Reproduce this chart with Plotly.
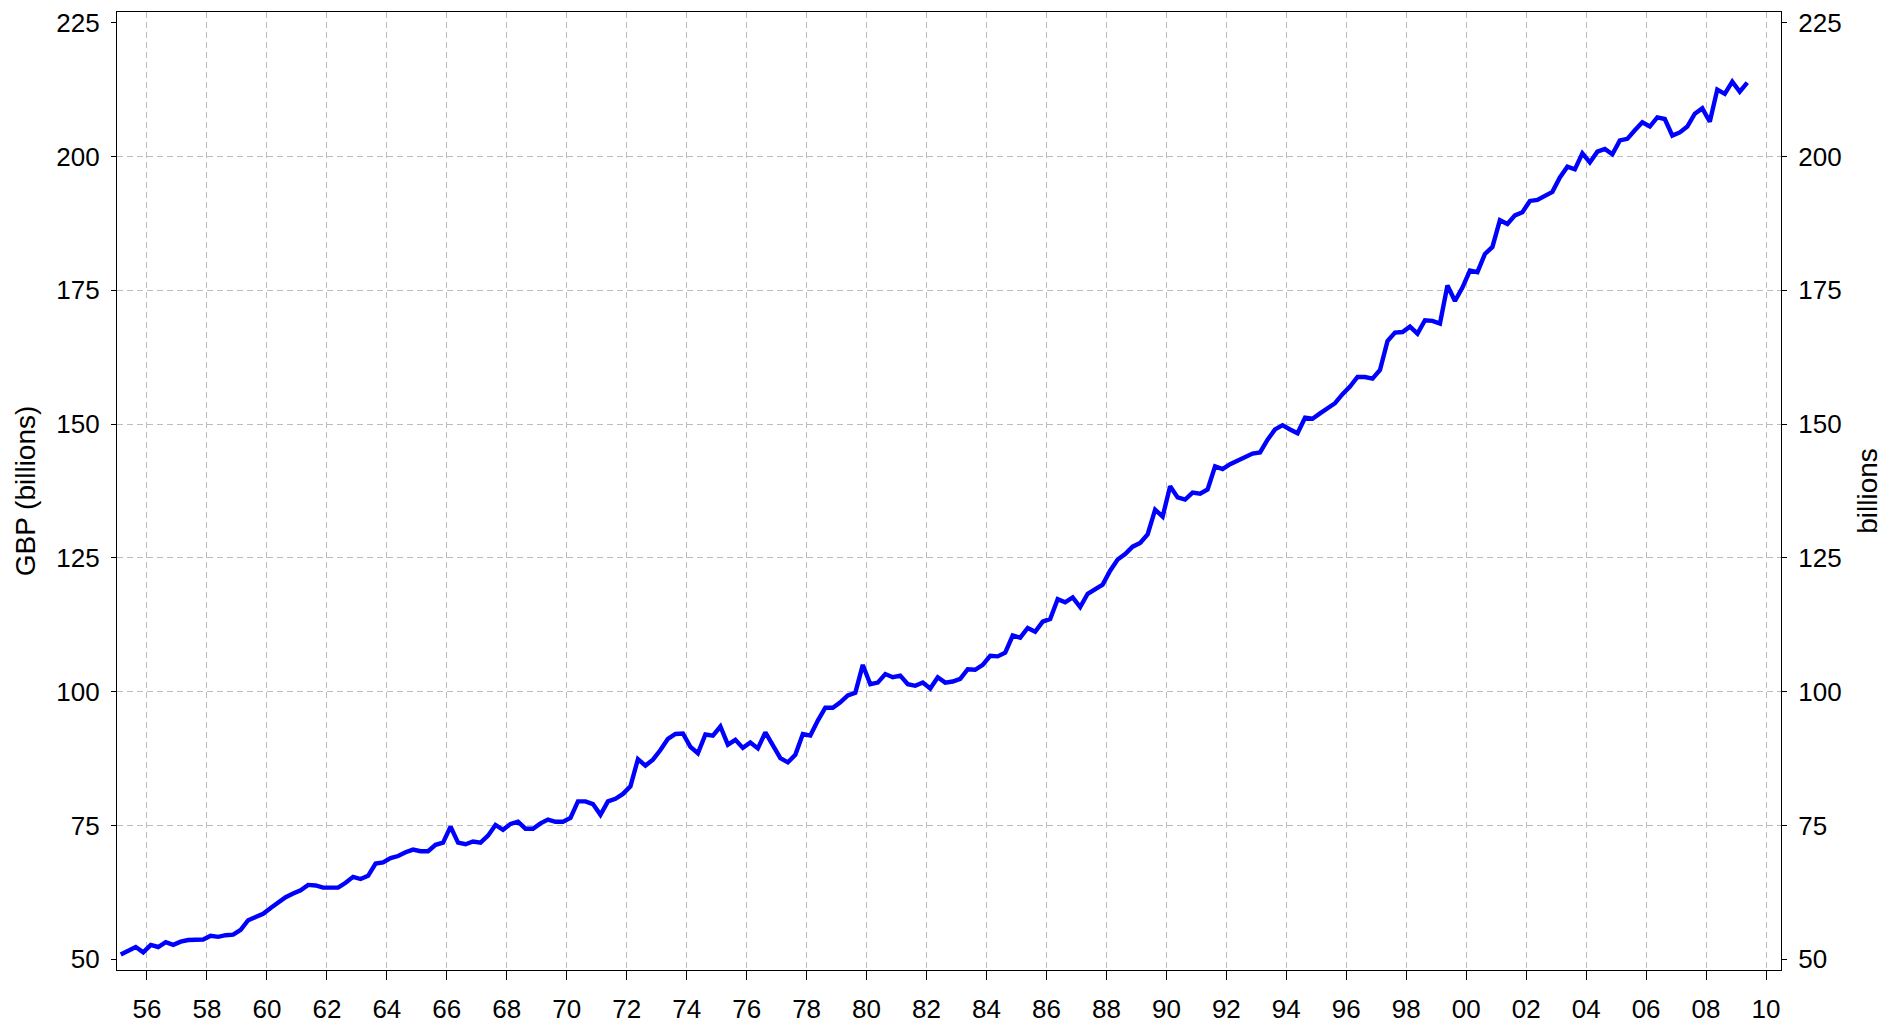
import plotly.graph_objects as go

# Quarterly GBP (billions), 1955 Q1 .. 2009 Q2
start_year = 1955
gdp_1955_1964 = [50.9, 51.7, 52.3, 51.3, 52.7, 52.3, 53.2, 52.7, 53.3, 53.6,
                 53.7, 53.7, 54.4, 54.2, 54.5, 54.6, 55.5, 57.3, 57.9, 58.5,
                 59.6, 60.7, 61.6, 62.3, 62.9, 63.9, 63.8, 63.4, 63.4, 63.4,
                 64.3, 65.4, 65.0, 65.6, 67.9, 68.1, 68.9, 69.3, 70.0, 70.5]
gdp_1965_1974 = [70.2, 70.2, 71.4, 71.8, 74.8, 71.8, 71.5, 72.0, 71.8, 73.1,
                 75.1, 74.2, 75.3, 75.7, 74.4, 74.4, 75.4, 76.1, 75.7, 75.7,
                 76.4, 79.5, 79.5, 79.0, 77.0, 79.5, 80.0, 80.9, 82.3, 87.4,
                 86.2, 87.3, 89.1, 91.2, 92.1, 92.2, 89.7, 88.5, 92.0, 91.8]
gdp_1975_1984 = [93.5, 90.1, 91.0, 89.5, 90.5, 89.4, 92.4, 89.9, 87.6, 86.8,
                 88.2, 92.1, 91.8, 94.6, 97.0, 97.0, 98.0, 99.3, 99.8, 105.0,
                 101.4, 101.7, 103.3, 102.7, 103.0, 101.4, 101.1, 101.7, 100.6, 102.7,
                 101.7, 101.9, 102.4, 104.2, 104.1, 105.0, 106.7, 106.6, 107.3, 110.5]
gdp_1985_1994 = [110.1, 111.9, 111.2, 113.1, 113.6, 117.3, 116.7, 117.6, 115.8, 118.3,
                 119.2, 120.0, 122.6, 124.7, 125.7, 127.1, 127.8, 129.4, 134.0, 132.7,
                 138.4, 136.3, 135.9, 137.2, 137.0, 137.8, 142.1, 141.6, 142.5, 143.1,
                 143.9, 144.5, 144.7, 147.1, 149.0, 149.8, 149.0, 148.3, 151.2, 151.0]
gdp_1995_2004 = [152.0, 152.9, 153.9, 155.6, 157.0, 158.8, 158.8, 158.5, 160.1, 165.5,
                 167.1, 167.2, 168.2, 166.9, 169.4, 169.3, 168.8, 175.9, 173.0, 175.5,
                 178.7, 178.4, 181.8, 183.1, 188.1, 187.4, 189.0, 189.6, 191.7, 191.9,
                 192.7, 193.4, 196.1, 198.1, 197.6, 200.6, 198.9, 200.9, 201.4, 200.4]
gdp_2005_2009 = [203.0, 203.3, 204.9, 206.4, 205.6, 207.3, 207.0, 203.9, 204.5, 205.6,
                 208.0, 209.0, 206.5, 212.5, 211.7, 214.0, 212.1, 213.8]

x_tick_years = [1956, 1958, 1960, 1962, 1964, 1966, 1968, 1970, 1972, 1974,
                1976, 1978, 1980, 1982, 1984, 1986, 1988, 1990, 1992, 1994,
                1996, 1998, 2000, 2002, 2004, 2006, 2008, 2010]
x_tick_labels = ["56", "58", "60", "62", "64", "66", "68", "70", "72", "74",
                 "76", "78", "80", "82", "84", "86", "88", "90", "92", "94",
                 "96", "98", "00", "02", "04", "06", "08", "10"]
y_ticks = [50, 75, 100, 125, 150, 175, 200, 225]
y_grid = [75, 100, 125, 150, 175, 200]

values = (gdp_1955_1964 + gdp_1965_1974 + gdp_1975_1984 +
          gdp_1985_1994 + gdp_1995_2004 + gdp_2005_2009)
quarters = [start_year + (i + 0.5) / 4 for i in range(len(values))]

FONT = "Liberation Sans, Arial, Helvetica, sans-serif"
GRID = "#bdbdbd"
DASH = "6px,4px"

fig = go.Figure()
fig.add_trace(go.Scatter(x=quarters, y=values, mode="lines",
                         line=dict(color="#0000ff", width=4.4),
                         hoverinfo="x+y", showlegend=False))
# same series on the right-hand axis (invisible) so that axis is drawn
fig.add_trace(go.Scatter(x=quarters, y=values, mode="lines", yaxis="y2",
                         line=dict(color="#0000ff", width=1), opacity=0,
                         hoverinfo="skip", showlegend=False))

axis_common = dict(showline=True, linecolor="black", linewidth=1.3,
                   ticks="outside", tickcolor="black", tickwidth=1.3,
                   zeroline=False, automargin=False)

fig.update_layout(
    width=1899, height=1026,
    margin=dict(l=117, r=118, t=12, b=56, pad=0),
    paper_bgcolor="white", plot_bgcolor="white",
    font=dict(family=FONT, size=26, color="black"),
    showlegend=False,
    xaxis=dict(range=[1955.0, 2010.5], tickmode="array",
               tickvals=x_tick_years, ticktext=x_tick_labels,
               ticklen=9, mirror=True, ticklabelstandoff=7,
               showgrid=True, gridcolor=GRID, griddash=DASH, gridwidth=1,
               **axis_common),
    yaxis=dict(range=[48, 227], tickmode="array", tickvals=y_ticks,
               ticklen=5, showgrid=False, ticklabelstandoff=6,
               minor=dict(tickmode="array", tickvals=y_grid, showgrid=True,
                          gridcolor=GRID, griddash=DASH, gridwidth=1, ticks=""),
               title=dict(text="GBP (billions)", font=dict(size=28), standoff=12),
               **axis_common),
    yaxis2=dict(range=[48, 227], overlaying="y", side="right",
                tickmode="array", tickvals=y_ticks, ticklen=5,
                showgrid=False, ticklabelstandoff=6,
                title=dict(text="billions", font=dict(size=28), standoff=16),
                **axis_common),
)

fig.write_html("out.html", config={"displayModeBar": False},
               post_script="document.body.style.margin='0';document.body.style.overflow='hidden';")
